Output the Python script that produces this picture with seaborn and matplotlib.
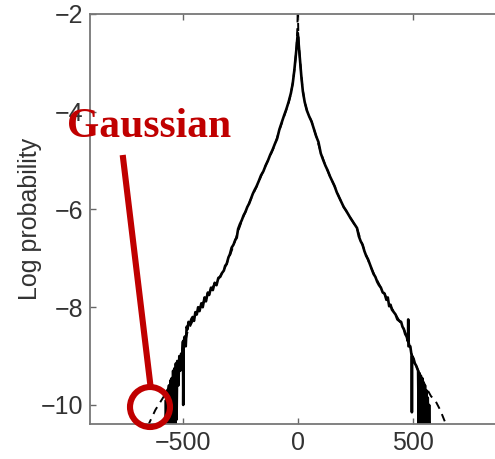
import matplotlib
matplotlib.use("Agg")
import matplotlib.pyplot as plt
from matplotlib.patches import Ellipse
from matplotlib.lines import Line2D
import seaborn as sns
import pandas as pd

# ---- data ----
data_x = [-578, -574, -570, -567, -564, -561, -558, -555, -552, -549, -546, -543,
          -540, -537, -534, -531, -528, -525, -520, -516, -512, -508, -504, -500,
          -499, -497, -492, -488, -484, -480, -476, -470, -464, -458, -452, -446,
          -440, -434, -428, -420, -414, -406, -400, -392, -386, -378, -370, -362,
          -354, -346, -338, -330, -322, -316, -310, -302, -296, -288, -280, -272,
          -266, -260, -252, -244, -236, -228, -220, -212, -204, -196, -188, -180,
          -170, -160, -150, -140, -130, -120, -110, -100, -90, -80, -70, -60, -50,
          -40, -30, -22, -15, -10, -6, -3, 0,
          3, 6, 10, 15, 22, 30, 40, 50, 60, 70, 80, 90, 100, 110, 120, 130, 140,
          150, 160, 170, 180, 190, 200, 210, 220, 230, 240, 250, 258, 266, 274,
          282, 290, 298, 306, 314, 322, 330, 338, 346, 354, 362, 370, 378, 386,
          392, 398, 404, 410, 418, 426, 434, 442, 450, 456, 462, 468, 474, 480,
          481, 482, 490, 496, 497, 498, 504, 510, 516, 520, 524, 527, 530, 533,
          536, 539, 542, 545, 548, 551, 554, 557, 560, 563, 566, 569, 572, 576]
data_logp = [-10.6, -9.9, -10.6, -9.7, -10.6, -9.6, -10.6, -9.5, -10.6, -9.45, -10.6, -9.3,
             -10.5, -9.25, -10.4, -9.15, -10.3, -9.1, -9.6, -9.0, -9.3, -8.95, -9.1, -8.7,
             -10.0, -8.7, -8.6, -8.8, -8.4, -8.45, -8.3, -8.35, -8.25, -8.2, -8.28, -8.1,
             -8.15, -8.0, -8.08, -7.92, -8.0, -7.8, -7.88, -7.7, -7.75, -7.6, -7.65, -7.5,
             -7.55, -7.4, -7.38, -7.3, -7.25, -7.15, -7.12, -6.98, -6.92, -6.78, -6.72, -6.62,
             -6.58, -6.4, -6.3, -6.22, -6.12, -6.05, -5.95, -5.88, -5.78, -5.68, -5.6, -5.53,
             -5.42, -5.3, -5.22, -5.1, -5.0, -4.88, -4.78, -4.66, -4.55, -4.36, -4.22, -4.08, -3.95,
             -3.8, -3.62, -3.42, -3.15, -2.92, -2.72, -2.55, -2.39,
             -2.56, -2.74, -2.94, -3.25, -3.58, -3.8, -3.98, -4.1, -4.2, -4.35, -4.5, -4.62,
             -4.85, -4.98, -5.1, -5.2, -5.32, -5.42, -5.52, -5.65, -5.75, -5.85, -5.95,
             -6.02, -6.1, -6.18, -6.25, -6.32, -6.38, -6.55, -6.65, -6.72, -6.85, -6.95,
             -7.02, -7.12, -7.22, -7.32, -7.38, -7.48, -7.55, -7.6, -7.7, -7.72, -7.85,
             -7.8, -7.98, -7.95, -8.05, -8.1, -8.15, -8.25, -8.28, -8.3, -8.4, -8.45,
             -8.55, -8.6, -8.7, -8.25, -8.8, -8.8, -9.0, -10.15, -9.0, -9.05, -9.15,
             -9.2, -9.25, -9.3, -10.5, -9.35, -10.5, -9.4, -10.5, -9.45, -10.5, -9.55,
             -10.5, -9.6, -10.5, -9.7, -10.5, -9.85, -10.5, -10.0, -10.6]

model_x = [-700, -650, -620, -600, -580, -560, -540, -520, -500, -480, -460, -440,
           -420, -400, -380, -360, -340, -320, -300, -280, -260, -240, -220, -200,
           -180, -160, -140, -120, -100, -80, -60, -40, -30, -20, -10, -5, -2, 0,
           2, 5, 10, 20, 30, 40, 60, 80, 100, 120, 140, 160, 180, 200, 220, 240,
           260, 280, 300, 320, 340, 360, 380, 400, 420, 440, 460, 480, 500, 520,
           540, 560, 580, 600, 620, 650, 700]
model_logp = [-10.95, -10.4, -10.1, -9.95, -9.8, -9.62, -9.4, -9.15, -8.9, -8.5, -8.3, -8.12,
              -7.95, -7.83, -7.65, -7.52, -7.38, -7.22, -7.0, -6.74, -6.45, -6.18, -5.96, -5.74,
              -5.54, -5.32, -5.1, -4.9, -4.68, -4.38, -4.1, -3.82, -3.63, -3.36, -2.93, -2.65, -2.3, -1.9,
              -2.3, -2.66, -2.95, -3.5, -3.8, -3.98, -4.2, -4.5, -4.83, -5.1, -5.32, -5.52, -5.75, -5.95,
              -6.1, -6.25, -6.42, -6.7, -6.96, -7.2, -7.4, -7.58, -7.75, -7.95, -8.1, -8.26,
              -8.43, -8.65, -9.02, -9.25, -9.45, -9.65, -9.82, -9.92, -10.1, -10.45, -10.95]

x_ticks = [-500, 0, 500]
y_ticks = [-10, -8, -6, -4, -2]
y_label = "Log probability"
annotation_text = "Gaussian"

# ---- plotting ----
sns.set_style("ticks")
plt.rcParams["font.family"] = ["Liberation Sans", "DejaVu Sans"]

W, H = 495, 459
fig = plt.figure(figsize=(W / 100, H / 100), dpi=100)
ax_left, ax_top, ax_bottom = 90, 14, 424
x_lo, x_hi = -905, 905
px_per_unit = 0.2296
ax_w = (x_hi - x_lo) * px_per_unit
ax = fig.add_axes([ax_left / W, 1 - ax_bottom / H, ax_w / W, (ax_bottom - ax_top) / H])

df_data = pd.DataFrame({"x": data_x, "logp": data_logp})
df_model = pd.DataFrame({"x": model_x, "logp": model_logp})

sns.lineplot(data=df_model, x="x", y="logp", ax=ax, color="black", lw=1.4,
             linestyle=(0, (4, 3)), estimator=None, sort=False)
sns.lineplot(data=df_data, x="x", y="logp", ax=ax, color="black", lw=1.9,
             estimator=None, sort=False)

ax.set_xlim(x_lo, x_hi)
ax.set_ylim(-10.39, -2)
ax.set_xticks(x_ticks)
ax.set_yticks(y_ticks)
ax.set_xlabel("")
ax.set_ylabel(y_label, fontsize=18, color="#333333", labelpad=-1)
ax.tick_params(direction="in", top=True, right=True, length=4, width=1,
               labelsize=18, colors="#333333", pad=5)
ax.tick_params(axis="both", color="#666666")
for s in ax.spines.values():
    s.set_color("#777777")
    s.set_linewidth(1.3)

# ---- annotation (figure-pixel placement) ----
red = "#C00000"
fig.text(67 / W, 1 - 137 / H, annotation_text, color=red, fontsize=30,
         fontweight="bold", family=["Liberation Serif", "DejaVu Serif"],
         ha="left", va="baseline", zorder=10)
fig.add_artist(Line2D([122.7 / W, 150.5 / W], [1 - 155 / H, 1 - 386 / H],
                      transform=fig.transFigure, color=red, lw=4.4,
                      solid_capstyle="butt", zorder=10))
r = 20
fig.add_artist(Ellipse((150 / W, 1 - 407 / H), 2 * r / W, 2 * r / H,
                       transform=fig.transFigure, fill=False, ec=red, lw=4.4,
                       zorder=10))

fig.savefig("out.png", dpi=100)
